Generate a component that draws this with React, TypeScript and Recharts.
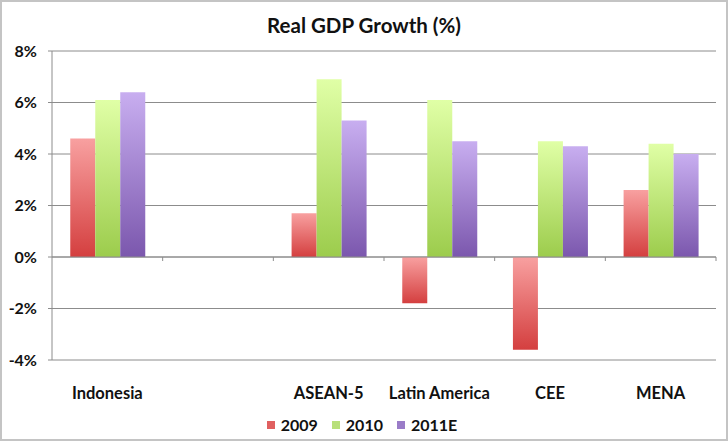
import React from "react";
import {
  BarChart,
  Bar,
  XAxis,
  YAxis,
  CartesianGrid,
  Legend,
  ReferenceLine,
} from "recharts";

// categories (the blank one is an empty slot in the original)
const regions = ["Indonesia", "", "ASEAN-5", "Latin America", "CEE", "MENA"];
const growth2009 = [4.6, null, 1.7, -1.8, -3.6, 2.6];
const growth2010 = [6.1, null, 6.9, 6.1, 4.5, 4.4];
const growth2011E = [6.4, null, 5.3, 4.5, 4.3, 4.0];
const yTicks = [-4, -2, 0, 2, 4, 6, 8];

const seriesInfo = [
  { key: "y2009", name: "2009", grad: "gRed", swatch: "#e06060" },
  { key: "y2010", name: "2010", grad: "gGreen", swatch: "#b8e07a" },
  { key: "y2011", name: "2011E", grad: "gPurple", swatch: "#9a7cc8" },
];

const data = regions.map((r, i) => ({
  region: r,
  y2009: growth2009[i],
  y2010: growth2010[i],
  y2011: growth2011E[i],
}));

const FONT = "Lato, 'Open Sans', sans-serif";

// zero line with the small category-boundary ticks below it
function ZeroLine(props: any) {
  const { x1, x2, y1 } = props;
  const n = regions.length;
  const step = (x2 - x1) / n;
  const ticks = [];
  for (let i = 1; i <= n; i++) {
    const x = x1 + step * i;
    ticks.push(<line key={i} x1={x} x2={x} y1={y1} y2={y1 + 4} stroke="#8c8c8c" />);
  }
  return (
    <g>
      <line x1={x1} x2={x2} y1={y1} y2={y1} stroke="#8c8c8c" strokeWidth={1} />
      {ticks}
    </g>
  );
}

function LegendBox() {
  return (
    <div
      style={{
        display: "flex",
        justifyContent: "center",
        alignItems: "center",
        fontFamily: FONT,
        fontWeight: 700,
        fontSize: 16,
        color: "#111",
      }}
    >
      {seriesInfo.map((s) => (
        <div key={s.key} style={{ display: "flex", alignItems: "center", margin: "0 7px" }}>
          <span style={{ width: 8, height: 8, background: s.swatch, marginRight: 6, display: "inline-block" }} />
          {s.name}
        </div>
      ))}
    </div>
  );
}

export default function App() {
  return (
    <div
      style={{
        position: "absolute",
        left: 0,
        top: 0,
        width: 728,
        height: 445,
        background: "#fff",
      }}
    >
      <div
        style={{
          position: "absolute",
          left: 0,
          top: 0,
          width: 724,
          height: 437,
          border: "2px solid #c4c4c4",
        }}
      />
      <div
        style={{
          position: "absolute",
          top: 13,
          width: 728,
          textAlign: "center",
          fontFamily: FONT,
          fontWeight: 700,
          fontSize: 20.5,
          color: "#111",
        }}
      >
        Real GDP Growth (%)
      </div>
      <div style={{ position: "absolute", left: 0, top: 0 }}>
        <BarChart
          width={728}
          height={445}
          data={data}
          margin={{ top: 51, right: 12, left: 8, bottom: 2 }}
          barCategoryGap="16.5%"
          barGap={0}
        >
          <defs>
            <linearGradient id="gRed" x1="0" y1="0" x2="0" y2="1">
              <stop offset="0%" stopColor="#f8a0a0" />
              <stop offset="100%" stopColor="#d43f3f" />
            </linearGradient>
            <linearGradient id="gGreen" x1="0" y1="0" x2="0" y2="1">
              <stop offset="0%" stopColor="#e0ffa6" />
              <stop offset="100%" stopColor="#9ccc4c" />
            </linearGradient>
            <linearGradient id="gPurple" x1="0" y1="0" x2="0" y2="1">
              <stop offset="0%" stopColor="#c8aef0" />
              <stop offset="100%" stopColor="#7b57ad" />
            </linearGradient>
          </defs>
          <CartesianGrid vertical={false} stroke="#8c8c8c" />
          <XAxis
            dataKey="region"
            axisLine={false}
            tickLine={false}
            interval={0}
            height={55}
            tick={{ fontFamily: FONT, fontWeight: 700, fontSize: 16.5, fill: "#111" }}
            tickMargin={21}
          />
          <YAxis
            domain={[-4, 8]}
            ticks={yTicks}
            width={44}
            tickFormatter={(v: number) => `${v}%`}
            axisLine={{ stroke: "#8c8c8c" }}
            tickLine={{ stroke: "#8c8c8c" }}
            tickSize={4}
            tickMargin={11}
            tick={{ fontFamily: FONT, fontWeight: 700, fontSize: 16, fill: "#111" }}
          />
          <ReferenceLine y={0} shape={<ZeroLine />} />
          {seriesInfo.map((s) => (
            <Bar
              key={s.key}
              dataKey={s.key}
              name={s.name}
              fill={`url(#${s.grad})`}
              isAnimationActive={false}
            />
          ))}
          <Legend verticalAlign="bottom" height={28} content={() => <LegendBox />} />
        </BarChart>
      </div>
    </div>
  );
}
